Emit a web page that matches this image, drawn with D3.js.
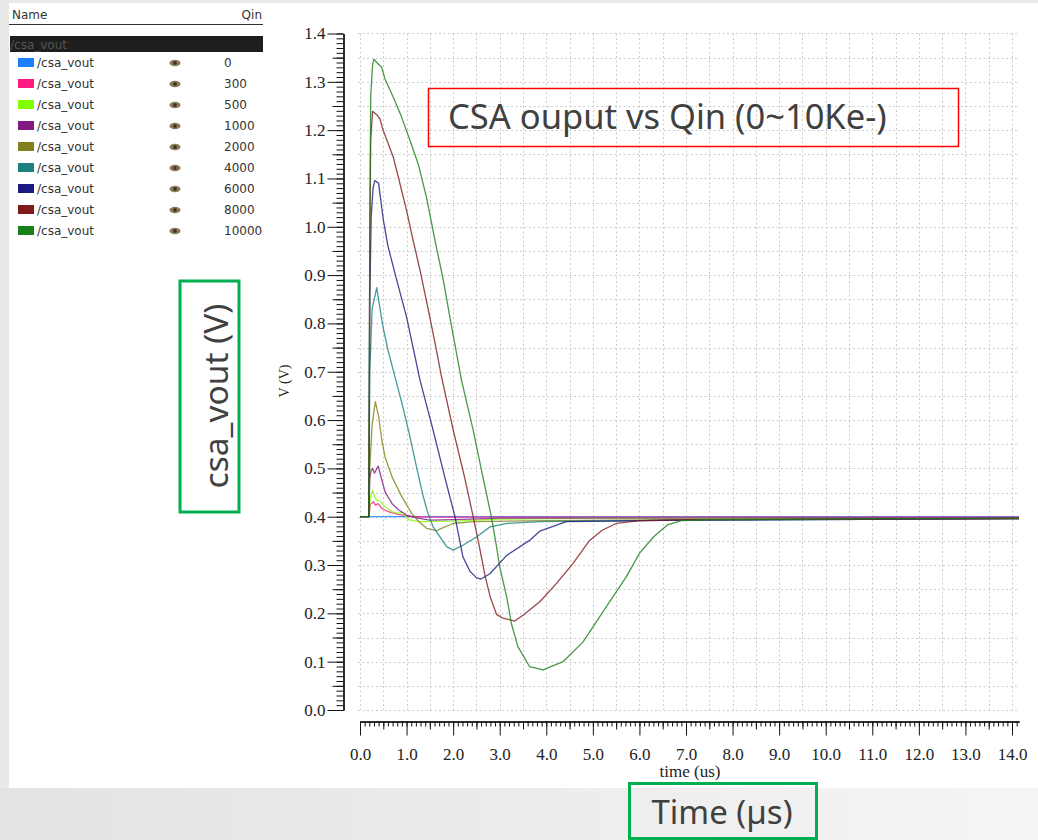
<!DOCTYPE html>
<html>
<head>
<meta charset="utf-8">
<script src="https://cdn.jsdelivr.net/npm/d3@7/dist/d3.min.js"></script>
<style>
  html, body { margin: 0; padding: 0; background: #e8e8e8; }
  svg { display: block; }
</style>
</head>
<body>
<svg id="chart" width="1038" height="840"></svg>
<script>
// Transient response of the CSA output for increasing injected charge.
// Each series: [time (us), voltage (V)].
const qinValues = ["0", "300", "500", "1000", "2000", "4000", "6000", "8000", "10000"];
const signalName = "/csa_vout";

const vout0 = [[0, 0.4], [14.15, 0.4]];
const vout300 = [[0, 0.4], [0.19, 0.4], [0.22, 0.425], [0.29, 0.431], [0.33, 0.424], [0.39, 0.427],
  [0.47, 0.417], [0.62, 0.41], [0.83, 0.405], [1.04, 0.401], [1.5, 0.399], [3, 0.399], [14.15, 0.399]];
const vout500 = [[0, 0.4], [0.19, 0.4], [0.22, 0.44], [0.27, 0.455], [0.315, 0.441], [0.365, 0.434],
  [0.435, 0.431], [0.54, 0.421], [0.69, 0.41], [0.83, 0.407], [0.9, 0.41], [0.96, 0.403], [1.04, 0.394],
  [1.26, 0.39], [2.0, 0.391], [3.0, 0.395], [5.0, 0.397], [14.15, 0.397]];
const vout1000 = [[0, 0.4], [0.19, 0.4], [0.21, 0.48], [0.24, 0.496], [0.27, 0.5], [0.31, 0.49],
  [0.39, 0.505], [0.47, 0.476], [0.54, 0.451], [0.69, 0.427], [0.83, 0.414], [1.01, 0.403],
  [1.19, 0.398], [1.5, 0.393], [2.0, 0.394], [3.0, 0.397], [14.15, 0.398]];
const vout2000 = [[0, 0.4], [0.19, 0.4], [0.21, 0.5], [0.26, 0.59], [0.33, 0.638], [0.40, 0.607],
  [0.47, 0.558], [0.54, 0.523], [0.69, 0.482], [0.90, 0.441], [1.11, 0.407], [1.26, 0.39],
  [1.43, 0.376], [1.64, 0.371], [1.75, 0.376], [2.0, 0.386], [2.43, 0.39], [4.0, 0.392],
  [7.0, 0.394], [14.15, 0.396]];
const vout4000 = [[0, 0.4], [0.19, 0.4], [0.21, 0.7], [0.26, 0.83], [0.36, 0.874], [0.43, 0.83],
  [0.5, 0.79], [0.6, 0.745], [0.75, 0.69], [0.9, 0.635], [1.05, 0.575], [1.22, 0.5], [1.35, 0.445],
  [1.45, 0.41], [1.57, 0.379], [1.72, 0.358], [1.86, 0.338], [2.0, 0.331], [2.21, 0.341],
  [2.5, 0.358], [2.79, 0.379], [3.15, 0.386], [3.86, 0.39], [7.0, 0.393], [14.15, 0.396]];
const vout6000 = [[0, 0.4], [0.19, 0.4], [0.21, 0.85], [0.24, 1.02], [0.28, 1.08], [0.32, 1.096],
  [0.4, 1.09], [0.44, 1.06], [0.5, 1.015], [0.6, 0.96], [0.79, 0.889], [1.0, 0.813], [1.29, 0.682],
  [1.57, 0.579], [1.82, 0.482], [2.04, 0.40], [2.21, 0.317], [2.36, 0.287], [2.5, 0.274],
  [2.6, 0.271], [2.79, 0.282], [3.15, 0.32], [3.64, 0.351], [3.86, 0.37], [4.43, 0.39],
  [7.0, 0.393], [14.15, 0.396]];
const vout8000 = [[0, 0.4], [0.19, 0.4], [0.21, 0.95], [0.23, 1.18], [0.27, 1.239], [0.36, 1.232],
  [0.43, 1.223], [0.5, 1.199], [0.607, 1.172], [0.715, 1.144], [0.858, 1.089], [1.0, 1.034],
  [1.14, 0.972], [1.29, 0.91], [1.43, 0.845], [1.6, 0.765], [1.75, 0.69], [2.0, 0.58], [2.25, 0.48],
  [2.43, 0.40], [2.57, 0.335], [2.68, 0.28], [2.79, 0.236], [2.93, 0.198], [3.07, 0.19],
  [3.32, 0.184], [3.5, 0.196], [3.86, 0.224], [4.22, 0.262], [4.57, 0.303], [4.93, 0.351],
  [5.2, 0.372], [5.5, 0.386], [6.0, 0.392], [7.0, 0.394], [14.15, 0.396]];
const vout10000 = [[0, 0.4], [0.19, 0.4], [0.21, 1.0], [0.23, 1.27], [0.27, 1.335], [0.3, 1.347],
  [0.36, 1.34], [0.465, 1.33], [0.536, 1.306], [0.715, 1.268], [0.894, 1.227], [1.072, 1.179],
  [1.25, 1.13], [1.43, 1.06], [1.61, 0.972], [1.79, 0.889], [1.93, 0.813], [2.18, 0.682],
  [2.43, 0.579], [2.64, 0.482], [2.82, 0.40], [2.93, 0.339], [3.0, 0.296], [3.15, 0.234],
  [3.25, 0.179], [3.39, 0.131], [3.64, 0.09], [3.93, 0.083], [4.36, 0.1], [4.79, 0.141],
  [5.29, 0.214], [5.72, 0.276], [6.0, 0.324], [6.3, 0.358], [6.6, 0.383], [6.9, 0.392],
  [7.5, 0.394], [14.15, 0.397]];

const seriesData = [vout0, vout300, vout500, vout1000, vout2000, vout4000, vout6000, vout8000, vout10000];
const seriesColors = ["#1a80ff", "#ff1a80", "#80ff00", "#801a80", "#80801a", "#1a8080", "#1a1a80", "#801a1a", "#1a801a"];

const xMajorTicks = d3.range(0, 14.01, 1);
const yMajorTicks = d3.range(0, 1.401, 0.1);

const svg = d3.select("#chart");

// ---- page background ----
const defs = svg.append("defs");
const grad = defs.append("linearGradient").attr("id", "band").attr("x1", "0").attr("x2", "1");
grad.append("stop").attr("offset", "0").attr("stop-color", "#e3e3e3");
grad.append("stop").attr("offset", "1").attr("stop-color", "#f5f5f5");
svg.append("rect").attr("width", 1038).attr("height", 840).attr("fill", "#e9e9e9");
svg.append("rect").attr("x", 0).attr("y", 788).attr("width", 1038).attr("height", 52).attr("fill", "url(#band)");
svg.append("rect").attr("x", 9).attr("y", 3).attr("width", 1029).attr("height", 785).attr("fill", "#ffffff");

// ---- scales ----
const x = d3.scaleLinear().domain([0, 14.15]).range([360, 1019]);
const y = d3.scaleLinear().domain([0, 1.4]).range([710, 33.5]);

// ---- grid ----
const grid = svg.append("g").attr("stroke", "#cccccc").attr("stroke-width", 1).attr("stroke-dasharray", "2,2.5");
grid.selectAll("line.h").data(d3.range(0, 1.401, 0.05)).join("line")
  .attr("x1", 358).attr("x2", 1019)
  .attr("y1", d => Math.round(y(d)) + 0.5).attr("y2", d => Math.round(y(d)) + 0.5);
grid.selectAll("line.v").data(d3.range(0, 14.01, 0.5)).join("line")
  .attr("y1", y(1.4)).attr("y2", y(0))
  .attr("x1", d => Math.round(x(d)) + 0.5).attr("x2", d => Math.round(x(d)) + 0.5);

// ---- axes ----
const serif = "'Liberation Serif', 'DejaVu Serif', serif";

const yAxisG = svg.append("g").attr("transform", "translate(343.5,0)");
yAxisG.append("g").call(d3.axisLeft(y).tickValues(d3.range(0, 1.401, 0.01)).tickSize(7).tickSizeOuter(0).tickFormat(""));
yAxisG.append("g").call(d3.axisLeft(y).tickValues(d3.range(0.05, 1.4, 0.1)).tickSize(11).tickSizeOuter(0).tickFormat(""));
yAxisG.append("g").call(d3.axisLeft(y).tickValues(yMajorTicks).tickSize(16).tickSizeOuter(0).tickPadding(2).tickFormat(d3.format(".1f")));
yAxisG.selectAll("text").attr("font-family", serif).attr("font-size", 17).attr("fill", "#222");
yAxisG.selectAll("line, path").attr("stroke", "#111");

const xAxisG = svg.append("g").attr("transform", "translate(0,721.5)");
xAxisG.append("g").call(d3.axisBottom(x).tickValues(d3.range(0, 14.11, 0.1)).tickSize(5).tickSizeOuter(0).tickFormat(""));
xAxisG.append("g").call(d3.axisBottom(x).tickValues(d3.range(0.5, 14, 1)).tickSize(8).tickSizeOuter(0).tickFormat(""));
xAxisG.append("g").call(d3.axisBottom(x).tickValues(xMajorTicks).tickSize(14).tickSizeOuter(0).tickPadding(12).tickFormat(d3.format(".1f")));
xAxisG.selectAll("text").attr("font-family", serif).attr("font-size", 17).attr("fill", "#222");
xAxisG.selectAll("line, path").attr("stroke", "#111");

svg.append("text").attr("x", 690).attr("y", 777).attr("text-anchor", "middle")
  .attr("font-family", serif).attr("font-size", 17).attr("fill", "#222").text("time (us)");
svg.append("text").attr("transform", "translate(289,381) rotate(-90)").attr("text-anchor", "middle")
  .attr("font-family", serif).attr("font-size", 14).attr("fill", "#222").text("V (V)");

// ---- waveforms ----
const line = d3.line().x(d => x(d[0])).y(d => y(d[1]));
svg.append("g").selectAll("path").data(seriesData).join("path")
  .attr("d", line)
  .attr("fill", "none")
  .attr("stroke", (d, i) => seriesColors[i])
  .attr("stroke-width", 1.3)
  .attr("stroke-opacity", 0.8)
  .attr("stroke-linejoin", "round");

// ---- signal list panel ----
const sans = "'DejaVu Sans', sans-serif";
const panel = svg.append("g").attr("font-family", sans).attr("font-size", 12).attr("fill", "#333");
panel.append("text").attr("x", 12).attr("y", 18.5).text("Name");
panel.append("text").attr("x", 262).attr("y", 18.5).attr("text-anchor", "end").text("Qin");
panel.append("line").attr("x1", 9).attr("x2", 263).attr("y1", 24.5).attr("y2", 24.5).attr("stroke", "#333").attr("stroke-width", 1.2);
panel.append("rect").attr("x", 10).attr("y", 36).attr("width", 253).attr("height", 16).attr("fill", "#1e1e1e");
panel.append("text").attr("x", 10).attr("y", 49).attr("fill", "#555").text(signalName);

const rows = panel.selectAll("g.row").data(qinValues).join("g")
  .attr("transform", (d, i) => `translate(0,${i * 21})`);
rows.append("rect").attr("x", 18).attr("y", 58).attr("width", 16).attr("height", 9)
  .attr("fill", (d, i) => seriesColors[i]);
rows.append("text").attr("x", 37).attr("y", 67).text(signalName);
rows.append("ellipse").attr("cx", 175).attr("cy", 63).attr("rx", 5.5).attr("ry", 3.2).attr("fill", "#8a7858");
rows.append("circle").attr("cx", 175).attr("cy", 63).attr("r", 1.8).attr("fill", "#3a2e1c");
rows.append("text").attr("x", 224).attr("y", 67).text(d => d);

// ---- annotations ----
const note = "'Noto Sans', 'Open Sans', sans-serif";
svg.append("rect").attr("x", 428.5).attr("y", 88.5).attr("width", 530).attr("height", 58)
  .attr("fill", "none").attr("stroke", "#ff0000").attr("stroke-width", 1.5);
svg.append("text").attr("x", 448).attr("y", 129).attr("font-family", note).attr("font-size", 34.5)
  .attr("fill", "#404040").text("CSA ouput vs Qin (0~10Ke-)");

svg.append("rect").attr("x", 180).attr("y", 281).attr("width", 59).attr("height", 231)
  .attr("fill", "none").attr("stroke", "#00b050").attr("stroke-width", 3);
svg.append("text").attr("transform", "translate(228,396) rotate(-90)").attr("text-anchor", "middle")
  .attr("font-family", note).attr("font-size", 33.5).attr("fill", "#404040").text("csa_vout (V)");

svg.append("rect").attr("x", 629.5).attr("y", 783.5).attr("width", 187).attr("height", 55)
  .attr("fill", "none").attr("stroke", "#00b050").attr("stroke-width", 3);
svg.append("text").attr("x", 722).attr("y", 824).attr("text-anchor", "middle")
  .attr("font-family", note).attr("font-size", 33).attr("fill", "#404040").text("Time (µs)");
</script>
</body>
</html>
